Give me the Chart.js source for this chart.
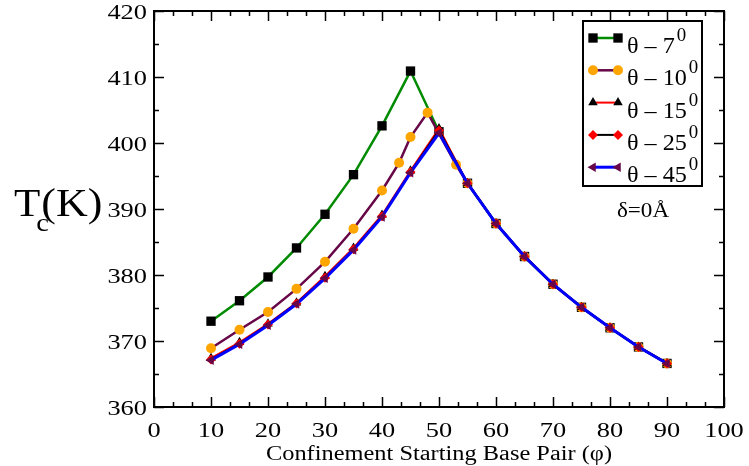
<!DOCTYPE html>
<html>
<head>
<meta charset="utf-8">
<script src="https://cdn.jsdelivr.net/npm/chart.js@4.4.0/dist/chart.umd.min.js"></script>
<style>
    html, body { margin: 0; padding: 0; background: #fff; }
    #chart { display: block; }
</style>
</head>
<body>
<canvas id="chart" width="749" height="466"></canvas>
<script>
(function() {
    'use strict';

    // Confinement starting base pair (x values)
    const phiMain = [10, 15, 20, 25, 30, 35, 40, 45, 50, 55, 60, 65, 70, 75, 80, 85, 90];
    const phiTheta10 = [10, 15, 20, 25, 30, 35, 40, 43, 45, 48, 53, 55, 60, 65, 70, 75, 80, 85, 90];

    // Tc (K) per confinement angle
    const tcTheta7  = [373.0, 376.1, 379.7, 384.1, 389.2, 395.2, 402.6, 410.9, 401.7, 393.9, 387.8, 382.8, 378.6, 375.1, 372.0, 369.1, 366.6];
    const tcTheta10 = [368.9, 371.7, 374.4, 377.9, 382.0, 387.0, 392.8, 397.0, 400.9, 404.6, 396.7, 393.9, 387.8, 382.8, 378.6, 375.1, 372.0, 369.1, 366.6];
    const tcTheta15 = [367.4, 369.8, 372.6, 375.8, 379.8, 384.1, 389.1, 395.8, 402.2, 393.9, 387.8, 382.8, 378.6, 375.1, 372.0, 369.1, 366.6];
    const tcTheta25 = [367.2, 369.6, 372.5, 375.7, 379.6, 383.9, 388.9, 395.6, 401.9, 393.9, 387.8, 382.8, 378.6, 375.1, 372.0, 369.1, 366.6];
    const tcTheta45 = [367.1, 369.5, 372.4, 375.6, 379.5, 383.8, 388.8, 395.5, 401.5, 393.9, 387.8, 382.8, 378.6, 375.1, 372.0, 369.1, 366.6];

    // Legend angles (degrees)
    const thetaLabels = ['7', '10', '15', '25', '45'];

    // Axis ranges / tick labels
    const xTicks = [0, 10, 20, 30, 40, 50, 60, 70, 80, 90, 100];
    const yTicks = [360, 370, 380, 390, 400, 410, 420];

    const SERIF = '"Liberation Serif", "DejaVu Serif", serif';
    const STRETCH = 1.2; // reference text is drawn a bit wide

    function toPoints(xs, ys) {
        return xs.map(function(x, i) { return { x: x, y: ys[i] }; });
    }

    // xmgrace-like series styles
    const styles = [
        { line: '#008b00', width: 2.5, marker: '#000000', pointStyle: 'rect', radius: 6.6, rotation: 0 },
        { line: '#670748', width: 2.5, marker: '#ffa500', pointStyle: 'circle', radius: 5, rotation: 0 },
        { line: '#ff0000', width: 2, marker: '#000000', pointStyle: 'triangle', radius: 5.5, rotation: 0 },
        { line: '#000000', width: 2, marker: '#ff0000', pointStyle: 'rectRot', radius: 5, rotation: 0 },
        { line: '#0000ff', width: 3, marker: '#670748', pointStyle: 'triangle', radius: 5.5, rotation: -90 }
    ];

    const seriesData = [
        toPoints(phiMain, tcTheta7),
        toPoints(phiTheta10, tcTheta10),
        toPoints(phiMain, tcTheta15),
        toPoints(phiMain, tcTheta25),
        toPoints(phiMain, tcTheta45)
    ];

    const datasets = seriesData.map(function(data, i) {
        const s = styles[i];
        return {
            label: 'θ – ' + thetaLabels[i],
            data: data,
            borderColor: s.line,
            borderWidth: s.width,
            backgroundColor: s.marker,
            pointStyle: s.pointStyle,
            pointRadius: s.radius,
            pointRotation: s.rotation,
            pointBackgroundColor: s.marker,
            pointBorderColor: s.marker,
            pointBorderWidth: 0,
            tension: 0,
            fill: false,
            // later sets are painted on top, like the original
            order: styles.length - i
        };
    });

    /**
     * Draw text stretched horizontally
     */
    function wideText(ctx, text, x, y, align, size, sx) {
        ctx.save();
        ctx.font = size + 'px ' + SERIF;
        const w = ctx.measureText(text).width * sx;
        let left = x;
        if (align === 'center') left = x - w / 2;
        else if (align === 'right') left = x - w;
        ctx.translate(left, y);
        ctx.scale(sx, 1);
        ctx.textAlign = 'left';
        ctx.textBaseline = 'alphabetic';
        ctx.fillText(text, 0, 0);
        ctx.restore();
        return w;
    }

    // Frame, inward ticks, labels, titles and legend box
    const gracePlugin = {
        id: 'graceFrame',
        afterDraw: function(chart) {
            const ctx = chart.ctx;
            const area = chart.chartArea;
            const xs = chart.scales.x;
            const ys = chart.scales.y;

            ctx.save();
            ctx.strokeStyle = '#000';
            ctx.fillStyle = '#000';
            ctx.lineWidth = 2;
            ctx.strokeRect(area.left, area.top, area.right - area.left, area.bottom - area.top);

            ctx.lineWidth = 1.5;
            ctx.beginPath();
            // x ticks: major every 10, two minors between
            xTicks.forEach(function(v, i) {
                const px = Math.round(xs.getPixelForValue(v)) + 0.5;
                ctx.moveTo(px, area.bottom); ctx.lineTo(px, area.bottom - 10);
                ctx.moveTo(px, area.top); ctx.lineTo(px, area.top + 10);
                if (i < xTicks.length - 1) {
                    for (let k = 1; k <= 2; k++) {
                        const m = Math.round(xs.getPixelForValue(v + k * 10 / 3)) + 0.5;
                        ctx.moveTo(m, area.bottom); ctx.lineTo(m, area.bottom - 5);
                        ctx.moveTo(m, area.top); ctx.lineTo(m, area.top + 5);
                    }
                }
            });
            // y ticks: major every 10, one minor between
            yTicks.forEach(function(v, i) {
                const py = Math.round(ys.getPixelForValue(v)) + 0.5;
                ctx.moveTo(area.left, py); ctx.lineTo(area.left + 10, py);
                ctx.moveTo(area.right, py); ctx.lineTo(area.right - 10, py);
                if (i < yTicks.length - 1) {
                    const m = Math.round(ys.getPixelForValue(v + 5)) + 0.5;
                    ctx.moveTo(area.left, m); ctx.lineTo(area.left + 5, m);
                    ctx.moveTo(area.right, m); ctx.lineTo(area.right - 5, m);
                }
            });
            ctx.stroke();

            // tick labels
            xTicks.forEach(function(v) {
                wideText(ctx, String(v), xs.getPixelForValue(v), area.bottom + 30, 'center', 22, STRETCH);
            });
            yTicks.forEach(function(v) {
                wideText(ctx, String(v), area.left - 7, ys.getPixelForValue(v) + 7.5, 'right', 22, STRETCH);
            });

            // axis titles
            wideText(ctx, 'Confinement Starting Base Pair (φ)', (area.left + area.right) / 2, 460, 'center', 20, 1.22);
            const tw = wideText(ctx, 'T', 14, 216, 'left', 41, 1.05);
            wideText(ctx, 'c', 14 + tw - 4, 231, 'left', 26, 1.1);
            wideText(ctx, '(K)', 14 + tw + 1, 216, 'left', 40, 1.1);

            // annotation
            wideText(ctx, 'δ=0Å', 643, 217, 'center', 21, 1.1);

            // legend box
            const box = { left: 583, top: 21, right: 702, bottom: 186 };
            ctx.lineWidth = 2;
            ctx.strokeRect(box.left, box.top, box.right - box.left, box.bottom - box.top);
            chart.data.datasets.forEach(function(ds, i) {
                const rowY = 38 + i * 32.3;
                ctx.strokeStyle = ds.borderColor;
                ctx.lineWidth = ds.borderWidth;
                ctx.beginPath();
                ctx.moveTo(593, rowY);
                ctx.lineTo(618, rowY);
                ctx.stroke();
                ctx.fillStyle = ds.pointBackgroundColor;
                ctx.strokeStyle = ds.pointBorderColor;
                [593, 618].forEach(function(mx) {
                    Chart.helpers.drawPoint(ctx, {
                        pointStyle: ds.pointStyle,
                        radius: ds.pointRadius,
                        rotation: ds.pointRotation,
                        borderWidth: 0
                    }, mx, rowY);
                });
                ctx.fillStyle = '#000';
                const lw = wideText(ctx, 'θ – ' + thetaLabels[i], 627, rowY + 15, 'left', 23, 1.05);
                wideText(ctx, '0', 627 + lw + 2, rowY + 3, 'left', 18, 1.05);
            });
            ctx.restore();
        }
    };

    new Chart(document.getElementById('chart').getContext('2d'), {
        type: 'line',
        data: { datasets: datasets },
        options: {
            responsive: false,
            animation: false,
            devicePixelRatio: 1,
            layout: { padding: { left: 0, right: 25, top: 11, bottom: 0 } },
            plugins: {
                legend: { display: false },
                tooltip: { enabled: false }
            },
            scales: {
                x: {
                    type: 'linear',
                    min: xTicks[0],
                    max: xTicks[xTicks.length - 1],
                    ticks: { stepSize: 10, display: false },
                    grid: { display: false },
                    border: { display: false },
                    afterFit: function(scale) { scale.height = 59; }
                },
                y: {
                    type: 'linear',
                    min: yTicks[0],
                    max: yTicks[yTicks.length - 1],
                    ticks: { stepSize: 10, display: false },
                    grid: { display: false },
                    border: { display: false },
                    afterFit: function(scale) { scale.width = 154; }
                }
            }
        },
        plugins: [gracePlugin]
    });
})();
</script>
</body>
</html>
